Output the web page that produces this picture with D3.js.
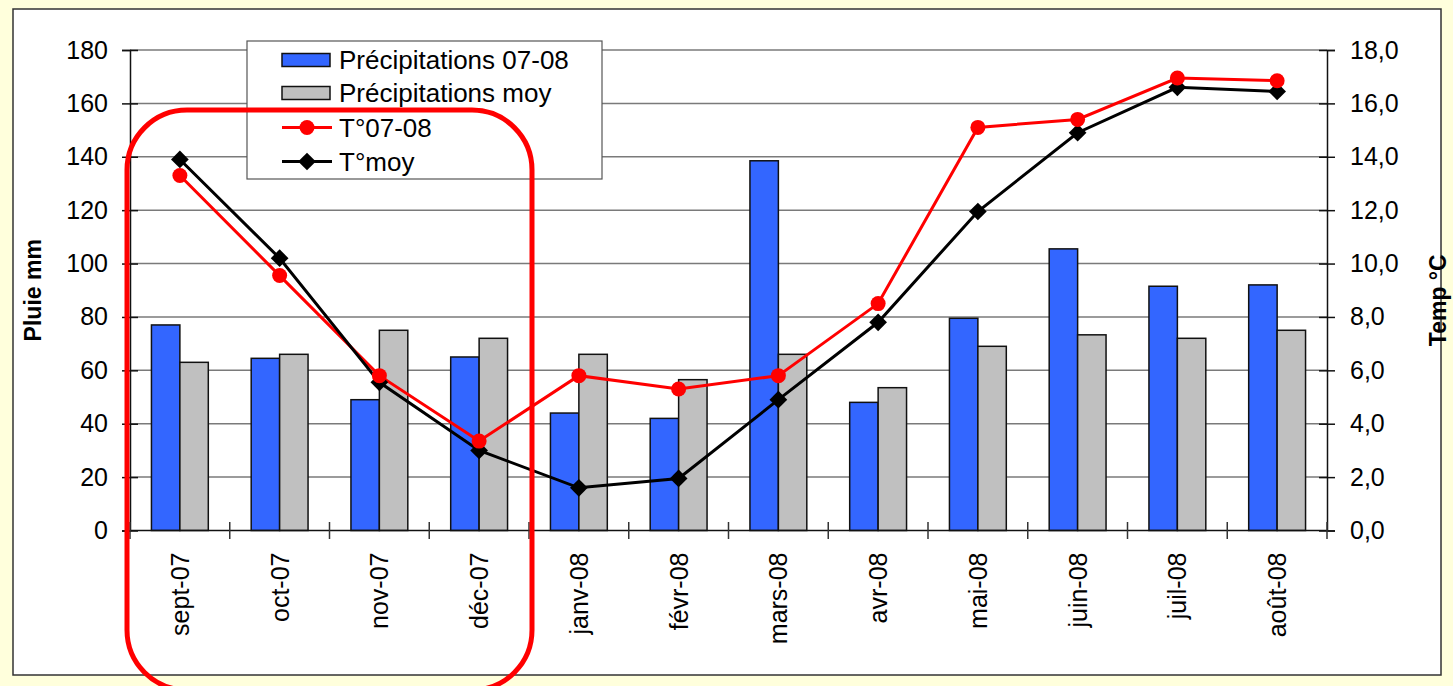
<!DOCTYPE html>
<html>
<head>
<meta charset="utf-8">
<script src="https://cdn.jsdelivr.net/npm/d3@7"></script>
<style>
  html, body { margin: 0; padding: 0; background: #FFFFDC; }
  svg { display: block; font-family: "Liberation Sans", Arial, sans-serif; }
</style>
</head>
<body>
<div id="chart"></div>
<script>
"use strict";

// months (x categories)
var months = ["sept-07", "oct-07", "nov-07", "déc-07", "janv-08", "févr-08",
              "mars-08", "avr-08", "mai-08", "juin-08", "juil-08", "août-08"];

// rainfall, mm
var pluie0708 = [77, 64.5, 49, 65, 44, 42, 138.5, 48, 79.5, 105.5, 91.5, 92];
var pluieMoy  = [63, 66, 75, 72, 66, 56.5, 66, 53.5, 69, 73.3, 72, 75];

// temperature, °C
var temp0708 = [13.3, 9.55, 5.8, 3.35, 5.8, 5.3, 5.8, 8.5, 15.1, 15.4, 16.95, 16.85];
var tempMoy  = [13.9, 10.2, 5.55, 3.0, 1.6, 1.95, 4.9, 7.8, 11.95, 14.9, 16.6, 16.45];

var leftTicks  = [0, 20, 40, 60, 80, 100, 120, 140, 160, 180];
var rightTicks = [0, 2, 4, 6, 8, 10, 12, 14, 16, 18];

var seriesNames = ["Précipitations 07-08", "Précipitations moy", "T°07-08", "T°moy"];

var W = 1453, H = 686;
var plot = { left: 130, right: 1327, top: 50, bottom: 530.5 };
var fontSize = 25;

var svg = d3.select("#chart").append("svg")
    .attr("width", W)
    .attr("height", H);

// outer background + chart frame
svg.append("rect").attr("x", 0).attr("y", 0).attr("width", W).attr("height", H).attr("fill", "#FFFFDC");
svg.append("rect")
    .attr("x", 13).attr("y", 9).attr("width", 1428).attr("height", 666)
    .attr("fill", "#ffffff").attr("stroke", "#333333").attr("stroke-width", 1.5);

var x0 = d3.scaleBand()
    .domain(months)
    .range([plot.left, plot.right])
    .paddingInner(0.43)
    .paddingOuter(0.215);

var x1 = d3.scaleBand()
    .domain(["a", "b"])
    .range([0, x0.bandwidth()]);

var yL = d3.scaleLinear().domain([0, 180]).range([plot.bottom, plot.top]);
var yR = d3.scaleLinear().domain([0, 18]).range([plot.bottom, plot.top]);

// gridlines
svg.append("g").attr("class", "grid")
    .selectAll("line")
    .data(leftTicks.filter(function (d) { return d > 0; }))
    .enter().append("line")
    .attr("x1", plot.left).attr("x2", plot.right)
    .attr("y1", function (d) { return yL(d); })
    .attr("y2", function (d) { return yL(d); })
    .attr("stroke", "#7a7a7a")
    .attr("stroke-width", 1.5);

// bars
var bars = svg.append("g").attr("class", "bars");
months.forEach(function (m, i) {
    bars.append("rect")
        .attr("x", x0(m) + x1("a"))
        .attr("y", yL(pluie0708[i]))
        .attr("width", x1.bandwidth())
        .attr("height", yL(0) - yL(pluie0708[i]))
        .attr("fill", "#3366FF")
        .attr("stroke", "#111").attr("stroke-width", 1.5);
    bars.append("rect")
        .attr("x", x0(m) + x1("b"))
        .attr("y", yL(pluieMoy[i]))
        .attr("width", x1.bandwidth())
        .attr("height", yL(0) - yL(pluieMoy[i]))
        .attr("fill", "#C0C0C0")
        .attr("stroke", "#111").attr("stroke-width", 1.5);
});

// left axis
var axL = d3.axisLeft(yL).tickValues(leftTicks).tickSize(8).tickPadding(14);
var gL = svg.append("g").attr("transform", "translate(" + plot.left + ",0)").call(axL);
gL.select(".domain").attr("stroke", "#111").attr("stroke-width", 1.5);
gL.selectAll(".tick line").attr("x2", -8).attr("x1", 8).attr("stroke", "#111").attr("stroke-width", 1.5);
gL.selectAll(".tick text")
    .attr("font-size", fontSize).attr("fill", "#000")
    .attr("font-family", "Liberation Sans, Arial, sans-serif");

// right axis
var fmt = function (d) { return d3.format(".1f")(d).replace(".", ","); };
var axR = d3.axisRight(yR).tickValues(rightTicks).tickSize(8).tickFormat(fmt).tickPadding(15);
var gR = svg.append("g").attr("transform", "translate(" + plot.right + ",0)").call(axR);
gR.select(".domain").attr("stroke", "#111").attr("stroke-width", 1.5);
gR.selectAll(".tick line").attr("x1", -8).attr("x2", 8).attr("stroke", "#111").attr("stroke-width", 1.5);
gR.selectAll(".tick text")
    .attr("font-size", fontSize).attr("fill", "#000")
    .attr("font-family", "Liberation Sans, Arial, sans-serif");

// x baseline + category separator ticks
var step = x0.step();
svg.append("line")
    .attr("x1", plot.left).attr("x2", plot.right)
    .attr("y1", yL(0)).attr("y2", yL(0))
    .attr("stroke", "#111").attr("stroke-width", 1.5);
var bounds = d3.range(months.length + 1).map(function (i) { return plot.left + i * step; });
svg.append("g").selectAll("line").data(bounds).enter().append("line")
    .attr("x1", function (d) { return d; }).attr("x2", function (d) { return d; })
    .attr("y1", yL(0) - 8.5).attr("y2", yL(0) + 8.5)
    .attr("stroke", "#333").attr("stroke-width", 1.5);

// x labels, rotated
svg.append("g").selectAll("text").data(months).enter().append("text")
    .attr("transform", function (d) {
        return "translate(" + (x0(d) + x0.bandwidth() / 2) + "," + (yL(0) + 22) + ") rotate(-90)";
    })
    .attr("text-anchor", "end")
    .attr("dy", "0.36em")
    .attr("font-size", fontSize)
    .text(function (d) { return d; });

// axis titles
svg.append("text")
    .attr("transform", "translate(41," + ((plot.top + plot.bottom) / 2) + ") rotate(-90)")
    .attr("text-anchor", "middle")
    .attr("font-size", 23).attr("font-weight", "bold")
    .text("Pluie mm");
svg.append("text")
    .attr("transform", "translate(1446," + ((plot.top + plot.bottom) / 2 + 10) + ") rotate(-90)")
    .attr("text-anchor", "middle")
    .attr("font-size", 23).attr("font-weight", "bold")
    .text("Temp °C");

// temperature lines
var cx = function (i) { return x0(months[i]) + x0.bandwidth() / 2; };
var line = d3.line()
    .x(function (d, i) { return cx(i); })
    .y(function (d) { return yR(d); });

var diamond = d3.symbol().type(d3.symbolDiamond2).size(200);

svg.append("path").datum(temp0708)
    .attr("d", line).attr("fill", "none")
    .attr("stroke", "#FF0000").attr("stroke-width", 3);
svg.append("path").datum(tempMoy)
    .attr("d", line).attr("fill", "none")
    .attr("stroke", "#000").attr("stroke-width", 3);

svg.append("g").selectAll("path").data(tempMoy).enter().append("path")
    .attr("d", diamond)
    .attr("transform", function (d, i) { return "translate(" + cx(i) + "," + yR(d) + ")"; })
    .attr("fill", "#000");
svg.append("g").selectAll("circle").data(temp0708).enter().append("circle")
    .attr("cx", function (d, i) { return cx(i); })
    .attr("cy", function (d) { return yR(d); })
    .attr("r", 7.5)
    .attr("fill", "#FF0000");

// legend
var lg = svg.append("g").attr("class", "legend");
lg.append("rect")
    .attr("x", 247).attr("y", 41).attr("width", 355).attr("height", 138)
    .attr("fill", "#fff").attr("stroke", "#555").attr("stroke-width", 1.2);
var rowY = [60, 93, 127.5, 161.5];
var swX = 282, swW = 48;
lg.append("rect").attr("x", swX).attr("y", rowY[0] - 6.5).attr("width", swW).attr("height", 13)
    .attr("fill", "#3366FF").attr("stroke", "#111").attr("stroke-width", 1.5);
lg.append("rect").attr("x", swX).attr("y", rowY[1] - 6.5).attr("width", swW).attr("height", 13)
    .attr("fill", "#C0C0C0").attr("stroke", "#111").attr("stroke-width", 1.5);
lg.append("line").attr("x1", swX).attr("x2", swX + swW + 2).attr("y1", rowY[2]).attr("y2", rowY[2])
    .attr("stroke", "#FF0000").attr("stroke-width", 3);
lg.append("circle").attr("cx", swX + swW / 2 + 1).attr("cy", rowY[2]).attr("r", 7.5).attr("fill", "#FF0000");
lg.append("line").attr("x1", swX).attr("x2", swX + swW + 2).attr("y1", rowY[3]).attr("y2", rowY[3])
    .attr("stroke", "#000").attr("stroke-width", 3);
lg.append("path").attr("d", diamond)
    .attr("transform", "translate(" + (swX + swW / 2 + 1) + "," + rowY[3] + ")").attr("fill", "#000");
lg.selectAll("text.lbl").data(seriesNames).enter().append("text")
    .attr("class", "lbl")
    .attr("x", 339)
    .attr("y", function (d, i) { return rowY[i]; })
    .attr("dy", "0.36em")
    .attr("font-size", 26)
    .text(function (d) { return d; });

// red rounded annotation around sept-07 .. déc-07
var annLeft = bounds[0] - 3, annRight = bounds[4] + 3;
svg.append("rect")
    .attr("x", annLeft).attr("y", yL(157.5))
    .attr("width", annRight - annLeft)
    .attr("height", 690 - yL(157.5))
    .attr("rx", 60).attr("ry", 60)
    .attr("fill", "none")
    .attr("stroke", "#FF0000").attr("stroke-width", 5);
</script>
</body>
</html>
